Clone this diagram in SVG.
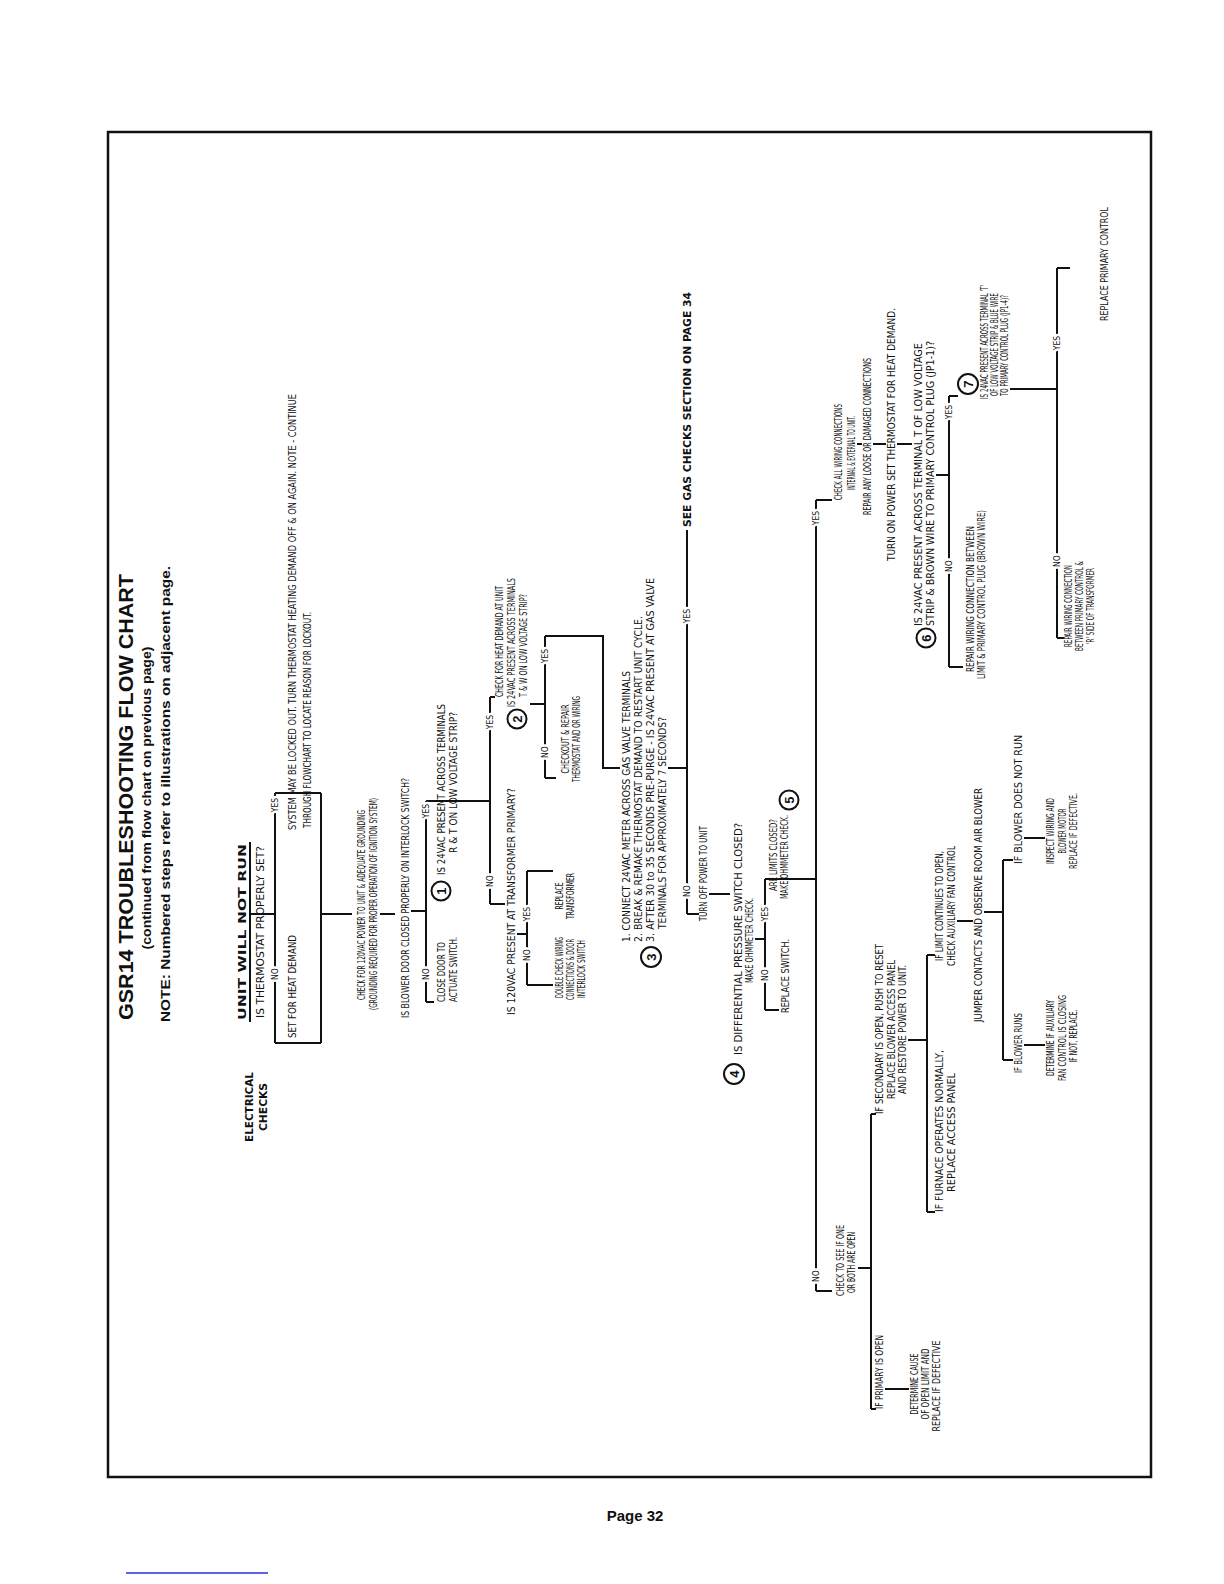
<svg xmlns="http://www.w3.org/2000/svg" width="1224" height="1584" viewBox="0 0 1224 1584">
<style>
.t{font-family:"Liberation Sans Narrow","DejaVu Sans Condensed","Liberation Sans",sans-serif;font-size:9.8px;fill:#111}
.b{font-weight:bold}
.h{font-family:"Liberation Sans",Arial,sans-serif;font-weight:bold;fill:#111;text-anchor:middle}
.lb{font-family:"Liberation Sans Narrow","DejaVu Sans Condensed","Liberation Sans",sans-serif;font-size:8.5px;text-anchor:middle;fill:#111;stroke:#fff;stroke-width:5;stroke-linejoin:round;paint-order:stroke}
.c{fill:#fff;stroke:#111;stroke-width:2}
.n{font-family:"Liberation Sans",sans-serif;font-weight:bold;font-size:13px;text-anchor:middle;fill:#111}
.ln{fill:none;stroke:#111;stroke-width:2}
.m{text-anchor:middle}
</style>
<rect x="108" y="132" width="1043" height="1345" fill="none" stroke="#111" stroke-width="2.5"/>
<text x="635" y="1521" font-family="Liberation Sans, sans-serif" font-weight="bold" font-size="15" text-anchor="middle" fill="#111">Page 32</text>
<line x1="126" y1="1573" x2="268" y2="1573" stroke="#2a2aee" stroke-width="1.5"/>
<g transform="translate(0,1584) rotate(-90)">
<g id="title">
<text class="h" x="787" y="133" font-size="20" textLength="446" lengthAdjust="spacingAndGlyphs">GSR14 TROUBLESHOOTING FLOW CHART</text>
<text class="h" x="786" y="151" font-size="13" textLength="303" lengthAdjust="spacingAndGlyphs">(continued from flow chart on previous page)</text>
<text class="h" x="790" y="170" font-size="13.5" textLength="456" lengthAdjust="spacingAndGlyphs">NOTE: Numbered steps refer to illustrations on adjacent page.</text>
</g>
<g id="electrical">
<text class="t b m" x="477" y="253" font-size="15" textLength="70" lengthAdjust="spacingAndGlyphs">ELECTRICAL</text>
<text class="t b m" x="477" y="267" font-size="15" textLength="48" lengthAdjust="spacingAndGlyphs">CHECKS</text>
</g>
<g id="connectors">
<path class="ln" d="M562,250 H742 M670,250 V275 M541,275 H791 M541,275 V321 M791,275 V321 M541,321 H791 M670,321 V352 M670,380 V395 M673,411 V426 M582,426 H783 M582,426 V434 M783,426 V490 M680,490 H887 M887,490 V495 M680,490 V505 M650,517 V527 M599,527 H713 M599,527 V553 M713,527 V553 M880,530 V545 M806,545 H948 M806,545 V556 M948,545 V603 H816 V620 M816,668 V687 M670,687 H1054 M670,687 V699 M690,709 V730 M645,755 V765 M574,765 H705 M574,765 V779 M705,765 V816 M293,816 H1084 M1084,816 V832 M1140,857 V862 M1140,873 V886 M1140,897 V912 M1109,936 V949 M917,949 H1188 M917,949 V963 M1188,949 V958 M1195,1010 V1057 M946,1057 H1316 M1316,1057 V1070 M946,1057 V1064 M293,816 V832 M316,858 V871 M175,871 H470 M175,871 V876 M470,871 V876 M195,885 V909 M544,908 V927 M372,927 H629 M372,927 V935 M629,927 V935 M663,957 V973 M672,984 V1003 M524,1003 H724 M524,1003 V1013 M724,1003 V1013 M539,1024 V1045 M746,1024 V1045"/>
<text class="lb" x="610" y="278.2">NO</text>
<text class="lb" x="779" y="278.2">YES</text>
<text class="lb" x="610" y="429.2">NO</text>
<text class="lb" x="773" y="429.2">YES</text>
<text class="lb" x="703" y="493.2">NO</text>
<text class="lb" x="862" y="493.2">YES</text>
<text class="lb" x="629" y="530.2">NO</text>
<text class="lb" x="670" y="530.2">YES</text>
<text class="lb" x="832" y="548.2">NO</text>
<text class="lb" x="928" y="548.2">YES</text>
<text class="lb" x="693" y="690.2">NO</text>
<text class="lb" x="968" y="690.2">YES</text>
<text class="lb" x="609" y="768.2">NO</text>
<text class="lb" x="670" y="768.2">YES</text>
<text class="lb" x="308" y="819.2">NO</text>
<text class="lb" x="1066" y="819.2">YES</text>
<text class="lb" x="1018" y="952.2">NO</text>
<text class="lb" x="1172" y="952.2">YES</text>
<text class="lb" x="1023" y="1060.2">NO</text>
<text class="lb" x="1241" y="1060.2">YES</text>
</g>
<g id="n-unit">
<text class="t b" x="564" y="246" font-size="20" textLength="176" lengthAdjust="spacingAndGlyphs">UNIT WILL NOT RUN</text>
</g>
<g id="n-thermostat">
<text class="t" x="566" y="264" textLength="172" lengthAdjust="spacingAndGlyphs">IS THERMOSTAT PROPERLY SET?</text>
</g>
<g id="n-setheat">
<text class="t" x="546" y="296" textLength="103" lengthAdjust="spacingAndGlyphs">SET FOR HEAT DEMAND</text>
</g>
<g id="n-lockout">
<text class="t" x="754" y="296" textLength="436" lengthAdjust="spacingAndGlyphs">SYSTEM MAY BE LOCKED OUT. TURN THERMOSTAT HEATING DEMAND OFF &amp; ON AGAIN. NOTE - CONTINUE</text>
<text class="t" x="756" y="311" textLength="216" lengthAdjust="spacingAndGlyphs">THROUGH FLOWCHART TO LOCATE REASON FOR LOCKOUT.</text>
</g>
<g id="n-120vac">
<text class="t" x="584" y="365" textLength="190" lengthAdjust="spacingAndGlyphs">CHECK FOR 120VAC POWER TO UNIT &amp; ADEQUATE GROUNDING</text>
<text class="t" x="574" y="377" textLength="212" lengthAdjust="spacingAndGlyphs">(GROUNDING REQUIRED FOR PROPER OPERATION OF IGNITION SYSTEM)</text>
</g>
<g id="n-door">
<text class="t" x="566" y="409" textLength="240" lengthAdjust="spacingAndGlyphs">IS BLOWER DOOR CLOSED PROPERLY ON INTERLOCK SWITCH?</text>
</g>
<g id="n-closedoor">
<text class="t" x="582" y="445" textLength="60" lengthAdjust="spacingAndGlyphs">CLOSE DOOR TO</text>
<text class="t" x="582" y="457" textLength="65" lengthAdjust="spacingAndGlyphs">ACTUATE SWITCH.</text>
</g>
<g id="n-step1">
<circle class="c" cx="693" cy="441" r="9.5"/>
<text class="n" x="693" y="445.6">1</text>
<text class="t" x="709" y="445" textLength="171" lengthAdjust="spacingAndGlyphs">IS 24VAC PRESENT ACROSS TERMINALS</text>
<text class="t" x="731" y="457" textLength="141" lengthAdjust="spacingAndGlyphs">R &amp; T ON LOW VOLTAGE STRIP?</text>
</g>
<g id="n-transformer">
<text class="t" x="569" y="515" textLength="227" lengthAdjust="spacingAndGlyphs">IS 120VAC PRESENT AT TRANSFORMER PRIMARY?</text>
</g>
<g id="n-doublecheck">
<text class="t" x="586" y="563" textLength="61" lengthAdjust="spacingAndGlyphs">DOUBLE CHECK WIRING</text>
<text class="t" x="584" y="574" textLength="61" lengthAdjust="spacingAndGlyphs">CONNECTIONS &amp; DOOR</text>
<text class="t" x="586" y="585" textLength="58" lengthAdjust="spacingAndGlyphs">INTERLOCK SWITCH</text>
</g>
<g id="n-replacetrans">
<text class="t m" x="688" y="563" textLength="27" lengthAdjust="spacingAndGlyphs">REPLACE</text>
<text class="t m" x="688" y="574" textLength="46" lengthAdjust="spacingAndGlyphs">TRANSFORMER</text>
</g>
<g id="n-step2">
<circle class="c" cx="865" cy="517" r="9.5"/>
<text class="n" x="865" y="521.6">2</text>
<text class="t" x="887" y="503" textLength="111" lengthAdjust="spacingAndGlyphs">CHECK FOR HEAT DEMAND AT UNIT</text>
<text class="t" x="877" y="515" textLength="129" lengthAdjust="spacingAndGlyphs">IS 24VAC PRESENT ACROSS TERMINALS</text>
<text class="t" x="887" y="527" textLength="103" lengthAdjust="spacingAndGlyphs">T &amp; W ON LOW VOLTAGE STRIP?</text>
</g>
<g id="n-checkout">
<text class="t m" x="845" y="569" textLength="69" lengthAdjust="spacingAndGlyphs">CHECKOUT &amp; REPAIR</text>
<text class="t m" x="845" y="580" textLength="86" lengthAdjust="spacingAndGlyphs">THERMOSTAT AND OR WIRING</text>
</g>
<g id="n-step3">
<circle class="c" cx="627" cy="651" r="10"/>
<text class="n" x="627" y="655.6">3</text>
<text class="t" x="642" y="630" textLength="271" lengthAdjust="spacingAndGlyphs">1. CONNECT 24VAC METER ACROSS GAS VALVE TERMINALS</text>
<text class="t" x="642" y="642" textLength="326" lengthAdjust="spacingAndGlyphs">2. BREAK &amp; REMAKE THERMOSTAT DEMAND TO RESTART UNIT CYCLE.</text>
<text class="t" x="642" y="654" textLength="364" lengthAdjust="spacingAndGlyphs">3. AFTER 30 to 35 SECONDS PRE-PURGE - IS 24VAC PRESENT AT GAS VALVE</text>
<text class="t" x="655" y="666" textLength="212" lengthAdjust="spacingAndGlyphs">TERMINALS FOR APPROXIMATELY 7 SECONDS?</text>
</g>
<g id="n-gaschecks">
<text class="t b" x="1057" y="690.5" textLength="235" lengthAdjust="spacingAndGlyphs">SEE GAS CHECKS SECTION ON PAGE 34</text>
</g>
<g id="n-turnoff">
<text class="t" x="663" y="707" textLength="95" lengthAdjust="spacingAndGlyphs">TURN OFF POWER TO UNIT</text>
</g>
<g id="n-step4">
<circle class="c" cx="510" cy="734" r="10"/>
<text class="n" x="510" y="738.6">4</text>
<text class="t" x="529" y="742" textLength="232" lengthAdjust="spacingAndGlyphs">IS DIFFERENTIAL PRESSURE SWITCH CLOSED?</text>
<text class="t" x="601" y="753" textLength="85" lengthAdjust="spacingAndGlyphs">MAKE OHMMETER CHECK.</text>
</g>
<g id="n-replaceswitch">
<text class="t" x="571" y="789" textLength="74" lengthAdjust="spacingAndGlyphs">REPLACE SWITCH.</text>
</g>
<g id="n-step5">
<circle class="c" cx="784" cy="789" r="9.5"/>
<text class="n" x="784" y="793.6">5</text>
<text class="t m" x="729" y="777" textLength="72" lengthAdjust="spacingAndGlyphs">ARE LIMITS CLOSED?</text>
<text class="t m" x="727" y="788" textLength="84" lengthAdjust="spacingAndGlyphs">MAKE OHMMETER CHECK.</text>
</g>
<g id="n-checkwiring">
<text class="t" x="1084" y="842" textLength="96" lengthAdjust="spacingAndGlyphs">CHECK ALL WIRING CONNECTIONS</text>
<text class="t" x="1094" y="854.5" textLength="74" lengthAdjust="spacingAndGlyphs">INTERNAL &amp; EXTERNAL TO UNIT.</text>
</g>
<g id="n-repairloose">
<text class="t" x="1069" y="870.6" textLength="157" lengthAdjust="spacingAndGlyphs">REPAIR ANY LOOSE OR DAMAGED CONNECTIONS</text>
</g>
<g id="n-turnon">
<text class="t" x="1023" y="895" textLength="253" lengthAdjust="spacingAndGlyphs">TURN ON POWER  SET THERMOSTAT FOR HEAT DEMAND.</text>
</g>
<g id="n-step6">
<circle class="c" cx="946" cy="926" r="9.5"/>
<text class="n" x="946" y="930.6">6</text>
<text class="t" x="958" y="922" textLength="283" lengthAdjust="spacingAndGlyphs">IS 24VAC PRESENT ACROSS TERMINAL T OF LOW VOLTAGE</text>
<text class="t" x="958" y="934" textLength="285" lengthAdjust="spacingAndGlyphs">STRIP &amp; BROWN WIRE TO PRIMARY CONTROL PLUG (JP1-1)?</text>
</g>
<g id="n-repairbrown">
<text class="t" x="912" y="974" textLength="146" lengthAdjust="spacingAndGlyphs">REPAIR WIRING CONNECTION BETWEEN</text>
<text class="t" x="905" y="985" textLength="169" lengthAdjust="spacingAndGlyphs">LIMIT &amp; PRIMARY CONTROL PLUG (BROWN WIRE)</text>
</g>
<g id="n-step7">
<circle class="c" cx="1200" cy="968" r="10"/>
<text class="n" x="1200" y="972.6">7</text>
<text class="t" x="1185" y="988" textLength="114" lengthAdjust="spacingAndGlyphs">IS 24VAC PRESENT ACROSS TERMINAL 'T'</text>
<text class="t" x="1188" y="998" textLength="103" lengthAdjust="spacingAndGlyphs">OF LOW VOLTAGE STRIP &amp; BLUE WIRE</text>
<text class="t" x="1188" y="1008" textLength="101" lengthAdjust="spacingAndGlyphs">TO PRIMARY CONTROL PLUG (JP1-4)?</text>
</g>
<g id="n-replaceprimary">
<text class="t" x="1263" y="1108" textLength="114" lengthAdjust="spacingAndGlyphs">REPLACE PRIMARY CONTROL</text>
</g>
<g id="n-repairR">
<text class="t m" x="978" y="1072" textLength="82" lengthAdjust="spacingAndGlyphs">REPAIR WIRING CONNECTION</text>
<text class="t m" x="978" y="1083" textLength="90" lengthAdjust="spacingAndGlyphs">BETWEEN PRIMARY CONTROL &amp;</text>
<text class="t m" x="978" y="1094" textLength="76" lengthAdjust="spacingAndGlyphs">'R' SIDE OF TRANSFORMER</text>
</g>
<g id="n-checksee">
<text class="t" x="288" y="844" textLength="71" lengthAdjust="spacingAndGlyphs">CHECK TO SEE IF ONE</text>
<text class="t" x="291" y="855" textLength="61" lengthAdjust="spacingAndGlyphs">OR BOTH ARE OPEN</text>
</g>
<g id="n-primaryopen">
<text class="t" x="175" y="883" textLength="74" lengthAdjust="spacingAndGlyphs">IF PRIMARY IS OPEN</text>
</g>
<g id="n-determinecause">
<text class="t m" x="200" y="918" textLength="61" lengthAdjust="spacingAndGlyphs">DETERMINE CAUSE</text>
<text class="t m" x="200" y="929" textLength="71" lengthAdjust="spacingAndGlyphs">OF OPEN LIMIT AND</text>
<text class="t m" x="198" y="940" textLength="91" lengthAdjust="spacingAndGlyphs">REPLACE IF DEFECTIVE</text>
</g>
<g id="n-secondary">
<text class="t" x="470" y="883" textLength="170" lengthAdjust="spacingAndGlyphs">IF SECONDARY IS OPEN, PUSH TO RESET</text>
<text class="t" x="485" y="895" textLength="139" lengthAdjust="spacingAndGlyphs">REPLACE BLOWER ACCESS PANEL</text>
<text class="t" x="490" y="906" textLength="129" lengthAdjust="spacingAndGlyphs">AND RESTORE POWER TO UNIT.</text>
</g>
<g id="n-furnace">
<text class="t" x="372" y="943" textLength="162" lengthAdjust="spacingAndGlyphs">IF FURNACE OPERATES NORMALLY,</text>
<text class="t" x="392" y="955" textLength="119" lengthAdjust="spacingAndGlyphs">REPLACE ACCESS PANEL</text>
</g>
<g id="n-limitopen">
<text class="t m" x="678" y="943" textLength="110" lengthAdjust="spacingAndGlyphs">IF LIMIT CONTINUES TO OPEN,</text>
<text class="t m" x="678" y="955" textLength="120" lengthAdjust="spacingAndGlyphs">CHECK AUXILIARY FAN CONTROL</text>
</g>
<g id="n-jumper">
<text class="t" x="562" y="982" textLength="234" lengthAdjust="spacingAndGlyphs">JUMPER CONTACTS AND OBSERVE ROOM AIR BLOWER</text>
</g>
<g id="n-blowerruns">
<text class="t" x="511" y="1022" textLength="60" lengthAdjust="spacingAndGlyphs">IF BLOWER RUNS</text>
</g>
<g id="n-blowernot">
<text class="t" x="720" y="1022" textLength="129" lengthAdjust="spacingAndGlyphs">IF BLOWER DOES NOT RUN</text>
</g>
<g id="n-auxfan">
<text class="t m" x="546" y="1054" textLength="76" lengthAdjust="spacingAndGlyphs">DETERMINE IF AUXILIARY</text>
<text class="t m" x="546" y="1066" textLength="86" lengthAdjust="spacingAndGlyphs">FAN CONTROL IS CLOSING</text>
<text class="t m" x="548" y="1077" textLength="53" lengthAdjust="spacingAndGlyphs">IF NOT, REPLACE.</text>
</g>
<g id="n-inspect">
<text class="t m" x="753" y="1054" textLength="66" lengthAdjust="spacingAndGlyphs">INSPECT WIRING AND</text>
<text class="t m" x="753" y="1066" textLength="45" lengthAdjust="spacingAndGlyphs">BLOWER MOTOR</text>
<text class="t m" x="753" y="1077" textLength="76" lengthAdjust="spacingAndGlyphs">REPLACE IF DEFECTIVE.</text>
</g>
</g>
</svg>
